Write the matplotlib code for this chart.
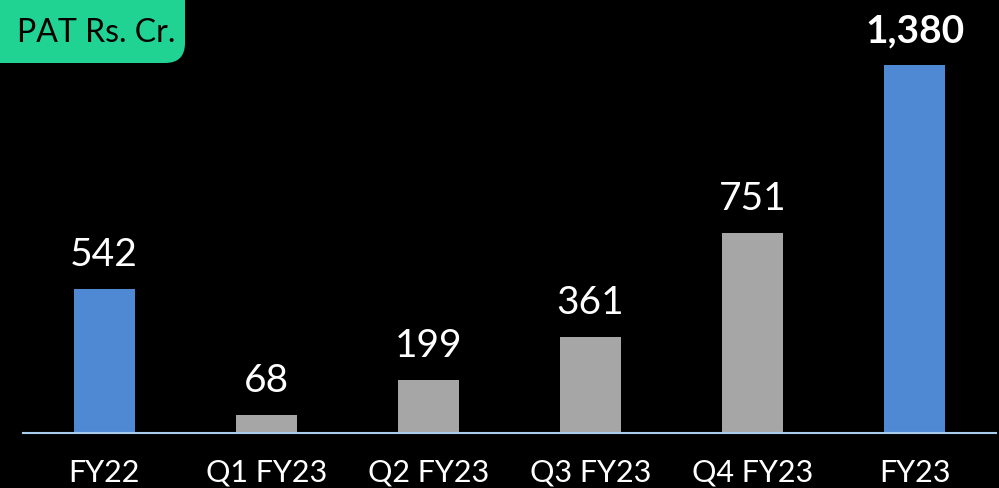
import matplotlib.pyplot as plt
from matplotlib.patches import FancyBboxPatch

categories = ['FY22', 'Q1 FY23', 'Q2 FY23', 'Q3 FY23', 'Q4 FY23', 'FY23']
pat = [542, 68, 199, 361, 751, 1380]
value_labels = ['542', '68', '199', '361', '751', '1,380']
annual = [True, False, False, False, False, True]

BLUE = '#4f89d3'
GREY = '#a6a6a6'
GREEN = '#20d393'
AXIS = '#a9cdee'

W, H = 999, 488
fig = plt.figure(figsize=(W / 100, H / 100), dpi=100, facecolor='black')
# axes placed in pixels: x 23..996, baseline at y=433 from the top
ax = fig.add_axes([23 / W, 55 / H, (996 - 23) / W, 433 / H])
ax.set_facecolor('black')

colors = [BLUE if a else GREY for a in annual]
x = range(len(categories))
ax.bar(x, pat, width=0.376, color=colors, zorder=2)

ax.set_xlim(-0.5, 5.5)
ax.set_ylim(0, 1625)

for i, (v, lab) in enumerate(zip(pat, value_labels)):
    bold = i == len(pat) - 1
    ax.annotate(lab, (i, v), xytext=(0, 16.5), textcoords='offset points',
                ha='center', va='baseline', color='white', fontsize=28,
                family='Lato', fontweight='bold' if bold else 'normal')

for s in ['top', 'right', 'left']:
    ax.spines[s].set_visible(False)
ax.spines['bottom'].set_color(AXIS)
ax.spines['bottom'].set_linewidth(1.5)
ax.set_yticks([])
ax.set_xticks(list(x))
ax.set_xticklabels(categories, color='white', fontsize=22, family='Lato')
ax.tick_params(axis='x', length=0, pad=18.5)

# green title tag in the top-left corner
box = FancyBboxPatch((-20 / W, (H - 63) / H), 205 / W, 100 / H,
                     boxstyle='round,pad=0,rounding_size=0.02',
                     transform=fig.transFigure, facecolor=GREEN,
                     edgecolor='none', mutation_aspect=W / H)
fig.patches.append(box)
fig.text(17 / W, (H - 42) / H, 'PAT Rs. Cr.', color='black', fontsize=23,
         family='Lato', ha='left', va='baseline')

fig.savefig('out.png', dpi=100, facecolor='black')
